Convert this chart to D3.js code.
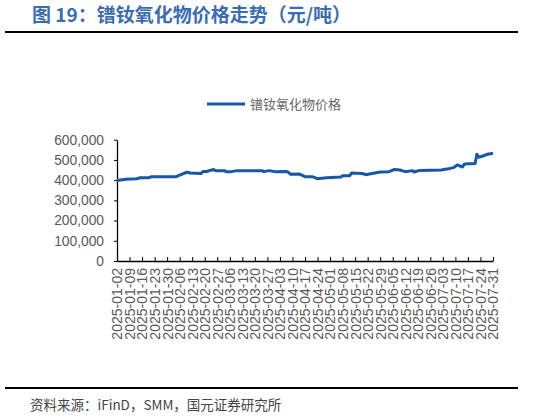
<!DOCTYPE html>
<html>
<head>
<meta charset="utf-8">
<script src="https://cdn.jsdelivr.net/npm/d3@7"></script>
<style>
  body { margin: 0; background: #fff; }
  svg { display: block; }
  text { font-family: "Liberation Sans", Arial, "Noto Sans CJK SC", sans-serif; }
  .cjk { font-family: "Noto Sans CJK SC", sans-serif; }
</style>
</head>
<body>
<div id="chart"></div>
<script>
// price of PrNd oxide, yuan/ton
const dates = [
  "2025-01-02", "2025-01-07", "2025-01-13", "2025-01-15", "2025-01-20", "2025-01-21",
  "2025-02-04", "2025-02-06", "2025-02-10", "2025-02-12", "2025-02-18", "2025-02-19",
  "2025-02-21", "2025-02-25", "2025-02-26", "2025-03-03", "2025-03-04", "2025-03-07",
  "2025-03-10", "2025-03-24", "2025-03-25", "2025-03-28", "2025-03-31", "2025-04-07",
  "2025-04-09", "2025-04-14", "2025-04-17", "2025-04-21", "2025-04-24", "2025-04-29",
  "2025-05-07", "2025-05-08", "2025-05-12", "2025-05-13", "2025-05-19", "2025-05-21",
  "2025-05-23", "2025-05-29", "2025-06-03", "2025-06-06", "2025-06-09", "2025-06-12",
  "2025-06-16", "2025-06-17", "2025-06-20", "2025-07-02", "2025-07-07", "2025-07-09",
  "2025-07-11", "2025-07-14", "2025-07-15", "2025-07-21", "2025-07-22", "2025-07-23",
  "2025-07-25", "2025-07-28", "2025-07-31"
];
const prices = [
  398000, 404000, 407000, 412000, 412000, 417000,
  417000, 425000, 439000, 435000, 433000, 443000,
  443000, 453000, 447000, 447000, 442000, 442000,
  447000, 447000, 442000, 447000, 442000, 443000,
  429000, 430000, 417000, 417000, 407000, 412000,
  415000, 422000, 422000, 435000, 433000, 427000,
  430000, 440000, 442000, 453000, 450000, 442000,
  447000, 440000, 448000, 450000, 458000, 462000,
  475000, 465000, 480000, 482000, 528000, 513000,
  518000, 528000, 533000
];
const yTicks = [0, 100000, 200000, 300000, 400000, 500000, 600000];
// weekly tick labels on the date axis
const xTickLabels = [
  "2025-01-02", "2025-01-09", "2025-01-16", "2025-01-23", "2025-01-30", "2025-02-06",
  "2025-02-13", "2025-02-20", "2025-02-27", "2025-03-06", "2025-03-13", "2025-03-20",
  "2025-03-27", "2025-04-03", "2025-04-10", "2025-04-17", "2025-04-24", "2025-05-01",
  "2025-05-08", "2025-05-15", "2025-05-22", "2025-05-29", "2025-06-05", "2025-06-12",
  "2025-06-19", "2025-06-26", "2025-07-03", "2025-07-10", "2025-07-17", "2025-07-24",
  "2025-07-31"
];
const seriesName = "镨钕氧化物价格";
const title = "图 19：镨钕氧化物价格走势（元/吨）";
const source = "资料来源：iFinD，SMM，国元证券研究所";

const W = 533, H = 418;
const parse = d3.timeParse("%Y-%m-%d");
const fmtDate = d3.timeFormat("%Y-%m-%d");
const data = dates.map((d, i) => ({ date: parse(d), value: prices[i] }));

const svg = d3.select("#chart").append("svg")
  .attr("width", W)
  .attr("height", H);

// header
svg.append("text")
  .attr("class", "cjk")
  .attr("x", 32).attr("y", 22)
  .attr("font-size", 19).attr("font-weight", "bold")
  .attr("fill", "#3a6db4")
  .text(title);
svg.append("line")
  .attr("x1", 5).attr("x2", 518).attr("y1", 32).attr("y2", 32)
  .attr("stroke", "#000").attr("stroke-width", 2);

// footer
svg.append("line")
  .attr("x1", 5).attr("x2", 518).attr("y1", 388).attr("y2", 388)
  .attr("stroke", "#000").attr("stroke-width", 2);
svg.append("text")
  .attr("class", "cjk")
  .attr("x", 30).attr("y", 410)
  .attr("font-size", 13.5)
  .attr("fill", "#444")
  .text(source);

// plot area
const x0 = 117, x1 = 493, yTop = 139.7, yBot = 261;

const x = d3.scaleTime()
  .domain([parse(dates[0]), parse(dates[dates.length - 1])])
  .range([x0, x1]);

const y = d3.scaleLinear()
  .domain([0, 600000])
  .range([yBot, yTop]);

// y axis
const yAxis = svg.append("g")
  .attr("transform", `translate(${x0},0)`)
  .call(d3.axisLeft(y).tickValues(yTicks).tickSize(3).tickSizeOuter(0)
    .tickFormat(d3.format(",")));
yAxis.select(".domain").attr("stroke", "#000").attr("stroke-width", 1.3);
yAxis.selectAll(".tick line").attr("stroke", "#000");
yAxis.selectAll(".tick text")
  .attr("font-size", 13.8).attr("fill", "#595959")
  .attr("x", -13);

// x axis
const xAxis = svg.append("g")
  .attr("transform", `translate(0,${yBot})`)
  .call(d3.axisBottom(x).tickValues(xTickLabels.map(parse)).tickSize(-4).tickSizeOuter(0)
    .tickFormat(fmtDate));
xAxis.select(".domain").attr("stroke", "#000").attr("stroke-width", 1.3);
xAxis.selectAll(".tick line").attr("stroke", "#000");
xAxis.selectAll(".tick text")
  .attr("font-size", 14).attr("fill", "#595959")
  .attr("transform", "rotate(-90)")
  .attr("text-anchor", "end")
  .attr("x", -7).attr("y", 0)
  .attr("dy", "0.35em");

// series
const line = d3.line()
  .x(d => x(d.date))
  .y(d => y(d.value));

svg.append("path")
  .datum(data)
  .attr("fill", "none")
  .attr("stroke", "#1856a8")
  .attr("stroke-width", 3)
  .attr("stroke-linejoin", "round")
  .attr("d", line);

// legend
const lg = svg.append("g").attr("transform", "translate(207,104)");
lg.append("line")
  .attr("x1", 0).attr("x2", 38)
  .attr("stroke", "#1856a8").attr("stroke-width", 3);
lg.append("text")
  .attr("class", "cjk")
  .attr("x", 43).attr("y", 0).attr("dy", "0.35em")
  .attr("font-size", 13).attr("fill", "#666")
  .text(seriesName);
</script>
</body>
</html>
